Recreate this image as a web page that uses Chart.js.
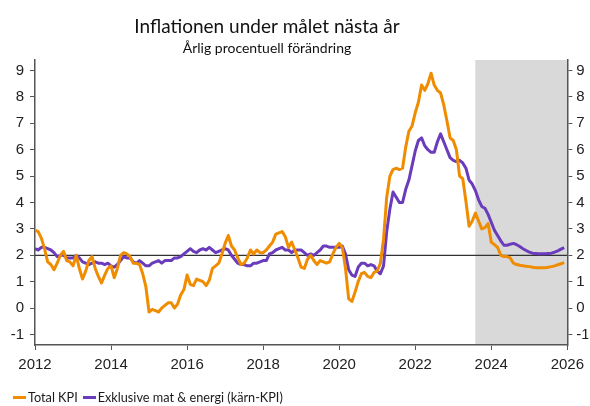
<!DOCTYPE html>
<html>
<head>
<meta charset="utf-8">
<script src="https://cdn.jsdelivr.net/npm/chart.js@4"></script>
<style>
  html, body { margin: 0; padding: 0; background: #fff; }
  #wrap { position: relative; width: 590px; height: 406px; }
  #legend { position: absolute; left: 13px; top: 389px; display: flex; align-items: center;
            font: 12.7px Lato, sans-serif; color: #1a1a1a; }
  #legend .sw { display: inline-block; width: 13px; height: 3px; margin-right: 2px; }
  #legend .item { display: flex; align-items: center; margin-right: 5px; }
</style>
</head>
<body>
<div id="wrap">
  <canvas id="myChart" width="590" height="406"></canvas>
  <div id="legend"></div>
</div>
<script>
const startYear = 2012
const forecastStart = 2023.58
const targetLevel = 2
const xTicks = [2012, 2014, 2016, 2018, 2020, 2022, 2024, 2026]
const yTicks = [-1, 0, 1, 2, 3, 4, 5, 6, 7, 8, 9]
const titleText = 'Inflationen under målet nästa år'
const subtitleText = 'Årlig procentuell förändring'
const seriesNames = ['Total KPI', 'Exklusive mat & energi (kärn-KPI)']
const colors = ['#f08c00', '#6a3cbc']

// månadsvärden jan 2012 - dec 2025
const totalKPI = [
  2.95, 2.9, 2.65, 2.25, 1.75, 1.65, 1.45, 1.7, 2.0, 2.15, 1.8, 1.75,
  1.6, 2.0, 1.5, 1.1, 1.4, 1.8, 1.95, 1.5, 1.2, 0.95, 1.25, 1.5,
  1.6, 1.15, 1.5, 2.0, 2.1, 2.05, 1.95, 1.7, 1.7, 1.65, 1.3, 0.8,
  -0.15, -0.05, -0.1, -0.15, 0.0, 0.1, 0.2, 0.2, 0.0, 0.15, 0.5, 0.7,
  1.25, 0.9, 0.85, 1.1, 1.05, 1.0, 0.85, 1.05, 1.5, 1.6, 1.7, 2.05,
  2.45, 2.75, 2.35, 2.2, 1.9, 1.65, 1.7, 1.9, 2.2, 2.05, 2.2, 2.1,
  2.1, 2.2, 2.35, 2.5, 2.8, 2.85, 2.9, 2.7, 2.3, 2.5, 2.2, 1.9,
  1.55, 1.5, 1.85, 2.0, 1.8, 1.65, 1.8, 1.75, 1.7, 1.75, 2.05, 2.3,
  2.45, 2.3, 1.5, 0.35, 0.25, 0.6, 1.0, 1.3, 1.35, 1.2, 1.15, 1.35,
  1.4, 1.7, 2.6, 4.2, 5.0, 5.25, 5.3, 5.25, 5.3, 6.1, 6.7, 6.9,
  7.4, 7.8, 8.45, 8.25, 8.5, 8.9, 8.45, 8.25, 8.15, 7.7, 7.1, 6.45,
  6.35, 6.0, 5.0, 4.9, 4.05, 3.1, 3.3, 3.6, 3.3, 3.0, 3.05, 3.2,
  2.5, 2.4, 2.3, 2.0, 1.95, 1.95, 1.9, 1.7, 1.65, 1.62, 1.6, 1.58,
  1.57, 1.55, 1.53, 1.53, 1.53, 1.53, 1.55, 1.57, 1.6, 1.64, 1.68, 1.72
]
const karnKPI = [
  2.25, 2.2, 2.3, 2.3, 2.25, 2.2, 2.1, 1.95, 2.0, 2.0, 1.9, 1.9,
  1.9, 2.0, 1.9, 1.75, 1.7, 1.65, 1.7, 1.75, 1.7, 1.7, 1.65, 1.7,
  1.6, 1.55, 1.65, 1.8, 1.95, 1.9, 1.9, 1.75, 1.7, 1.8, 1.7, 1.6,
  1.6, 1.7, 1.75, 1.8, 1.7, 1.8, 1.8, 1.8, 1.9, 1.9, 1.95, 2.05,
  2.15, 2.25, 2.15, 2.1, 2.2, 2.25, 2.2, 2.3, 2.2, 2.1, 2.15, 2.2,
  2.25, 2.2, 2.0, 1.85, 1.7, 1.65, 1.65, 1.6, 1.6, 1.7, 1.7, 1.75,
  1.8, 1.8, 2.05, 2.1, 2.2, 2.25, 2.3, 2.2, 2.2, 2.1, 2.2, 2.2,
  2.2, 2.1, 2.0, 2.05, 2.0, 2.1, 2.2, 2.35, 2.35, 2.3, 2.3, 2.3,
  2.3, 2.35, 2.05, 1.45, 1.25, 1.2, 1.55, 1.7, 1.7, 1.6, 1.65, 1.6,
  1.4, 1.3, 1.6, 2.9, 3.75, 4.4, 4.2, 4.0, 4.0, 4.5, 4.85, 5.4,
  5.95, 6.35, 6.45, 6.15, 6.0, 5.9, 5.9, 6.3, 6.6, 6.3, 6.0, 5.7,
  5.6, 5.55, 5.6, 5.5, 5.3, 4.85, 4.7, 4.45, 4.1, 3.85, 3.78, 3.55,
  3.25, 2.95, 2.75, 2.55, 2.38, 2.38, 2.42, 2.45, 2.4, 2.33, 2.25, 2.18,
  2.12, 2.08, 2.07, 2.06, 2.06, 2.06, 2.07, 2.08, 2.12, 2.17, 2.23, 2.29
]

const toPoints = arr => arr.map((v, i) => ({ x: startYear + i / 12, y: v }))

const tickFont = { family: '"Liberation Sans", sans-serif', size: 15 }
const axisColor = '#555'

// grå prognosyta
const shadePlugin = {
  id: 'shade',
  beforeDraw(chart) {
    const { ctx, chartArea, scales } = chart
    const x0 = scales.x.getPixelForValue(forecastStart)
    ctx.save()
    ctx.fillStyle = '#d9d9d9'
    ctx.fillRect(x0, chartArea.top, chartArea.right - x0, chartArea.bottom - chartArea.top)
    ctx.restore()
  }
}

// rubrik, lite vänster om mitten som i originalet
const titlePlugin = {
  id: 'rubrik',
  afterDraw(chart) {
    const { ctx } = chart
    ctx.save()
    ctx.fillStyle = '#111'
    ctx.textAlign = 'center'
    ctx.textBaseline = 'alphabetic'
    ctx.font = '19px Lato, sans-serif'
    ctx.fillText(titleText, 267, 33)
    ctx.font = '14px Lato, sans-serif'
    ctx.fillText(subtitleText, 267, 53)
    ctx.restore()
  }
}

const yScale = (pos, w) => ({
  position: pos,
  min: -1.4,
  max: 9.4,
  afterBuildTicks: s => { s.ticks = yTicks.map(v => ({ value: v })) },
  afterFit: s => { s.width = w },
  grid: { drawOnChartArea: false, tickLength: 5, color: axisColor },
  border: { color: axisColor, width: 1.5 },
  ticks: { font: tickFont, color: '#222', padding: pos === 'left' ? 6 : 4 }
})

const ctx = document.getElementById('myChart')

let grafico = new Chart(ctx, {
  type: 'line',
  data: {
    datasets: [
      {
        label: seriesNames[0],
        data: toPoints(totalKPI),
        borderColor: colors[0],
        borderWidth: 3,
        pointRadius: 0,
        borderJoinStyle: 'round',
        order: 1
      },
      {
        label: seriesNames[1],
        data: toPoints(karnKPI),
        borderColor: colors[1],
        borderWidth: 3,
        pointRadius: 0,
        borderJoinStyle: 'round',
        order: 2
      },
      {
        label: 'mål',
        data: [{ x: xTicks[0], y: targetLevel }, { x: xTicks[xTicks.length - 1], y: targetLevel }],
        borderColor: '#333',
        borderWidth: 1.2,
        pointRadius: 0,
        order: 3
      }
    ]
  },
  options: {
    responsive: false,
    animation: false,
    layout: { padding: { top: 60 } },
    scales: {
      x: {
        type: 'linear',
        position: 'bottom',
        min: 2012,
        max: 2026,
        afterBuildTicks: s => { s.ticks = xTicks.map(v => ({ value: v })) },
        afterFit: s => { s.height = 61 },
        grid: { drawOnChartArea: false, tickLength: 5, color: axisColor },
        border: { color: axisColor, width: 1.5 },
        ticks: { font: tickFont, color: '#222', padding: 6, maxRotation: 0, callback: v => String(v) }
      },
      y: yScale('left', 35),
      y2: yScale('right', 21)
    },
    plugins: {
      legend: { display: false },
      tooltip: { enabled: false }
    }
  },
  plugins: [shadePlugin, titlePlugin]
})

// legend
const legendEl = document.getElementById('legend')
seriesNames.forEach((name, i) => {
  const item = document.createElement('span')
  item.className = 'item'
  item.innerHTML = '<span class="sw" style="background:' + colors[i] + '"></span>' + name
  legendEl.appendChild(item)
})
</script>
</body>
</html>
